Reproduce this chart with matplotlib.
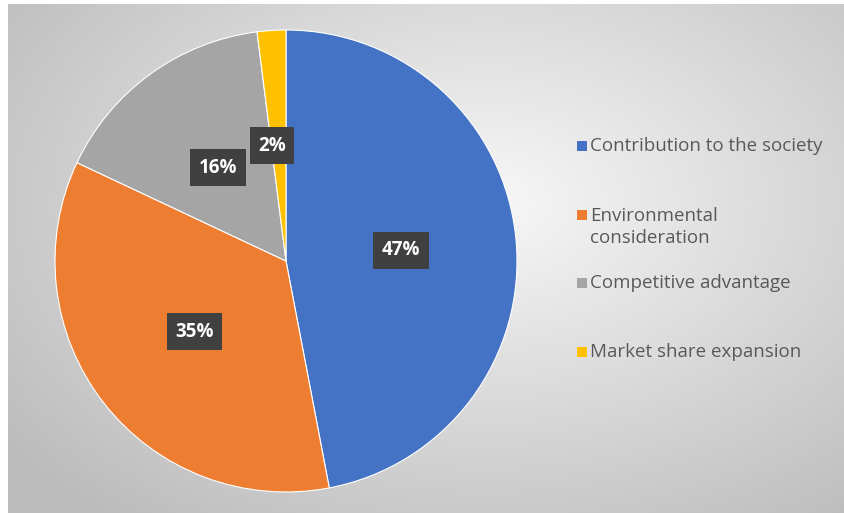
import matplotlib.pyplot as plt
from matplotlib.patches import Rectangle
import numpy as np

labels = ["Contribution to the society", "Environmental\nconsideration",
          "Competitive advantage", "Market share expansion"]
shares = [47, 35, 16, 2]
colors = ["#4472C4", "#ED7D31", "#A5A5A5", "#FFC000"]

W, H = 845, 513
fig = plt.figure(figsize=(W / 100, H / 100), dpi=100)
fig.patch.set_facecolor("white")

# radial grey gradient background (leaves a thin white strip at left/top)
bg = fig.add_axes([8 / W, 0, 1 - 8 / W, 1 - 4 / H])
bg.set_axis_off()
yy, xx = np.mgrid[0:H, 0:W - 8]
d = np.sqrt(((xx - 480) / 600.0) ** 2 + ((yy - 200) / 400.0) ** 2)
shade = np.clip(0.97 - 0.23 * d, 0.74, 0.97)
bg.imshow(np.dstack([shade] * 3), aspect="auto", extent=(0, 1, 0, 1))
bg.set_xlim(0, 1)
bg.set_ylim(0, 1)

# pie
r_px = 231
cx, cy = 286, 261
ax = fig.add_axes([(cx - r_px) / W, (H - cy - r_px) / H, 2 * r_px / W, 2 * r_px / H])
wedges, texts, autotexts = ax.pie(
    shares, colors=colors, startangle=90, counterclock=False,
    autopct="%d%%", pctdistance=0.5, radius=1,
    wedgeprops=dict(edgecolor="white", linewidth=0.8),
    textprops=dict(color="white", fontsize=13.5, fontweight="bold", family="Open Sans"))
for t in autotexts:
    t.set_bbox(dict(facecolor="#404040", edgecolor="none", boxstyle="square,pad=0.45"))
# 2% label sits slightly left of its wedge
x2, y2 = autotexts[3].get_position()
autotexts[3].set_position((x2 - 0.03, y2))
ax.set_xlim(-1, 1)
ax.set_ylim(-1, 1)
ax.set_aspect("equal")

# legend drawn as separate entries to keep the uneven spacing
square_y = [146, 215, 283, 352]
text_y = [146, 227, 283, 352]
for lab, col, sy, ty in zip(labels, colors, square_y, text_y):
    fy = 1 - sy / H
    fig.patches.append(Rectangle((577 / W, fy - 5 / H), 10 / W, 10 / H,
                                 transform=fig.transFigure, facecolor=col,
                                 edgecolor="none"))
    fig.text(590 / W, 1 - ty / H, lab, fontsize=13.5, color="#595959",
             family="Open Sans", va="center", ha="left", linespacing=1.35)

fig.savefig("out.png", dpi=100)
